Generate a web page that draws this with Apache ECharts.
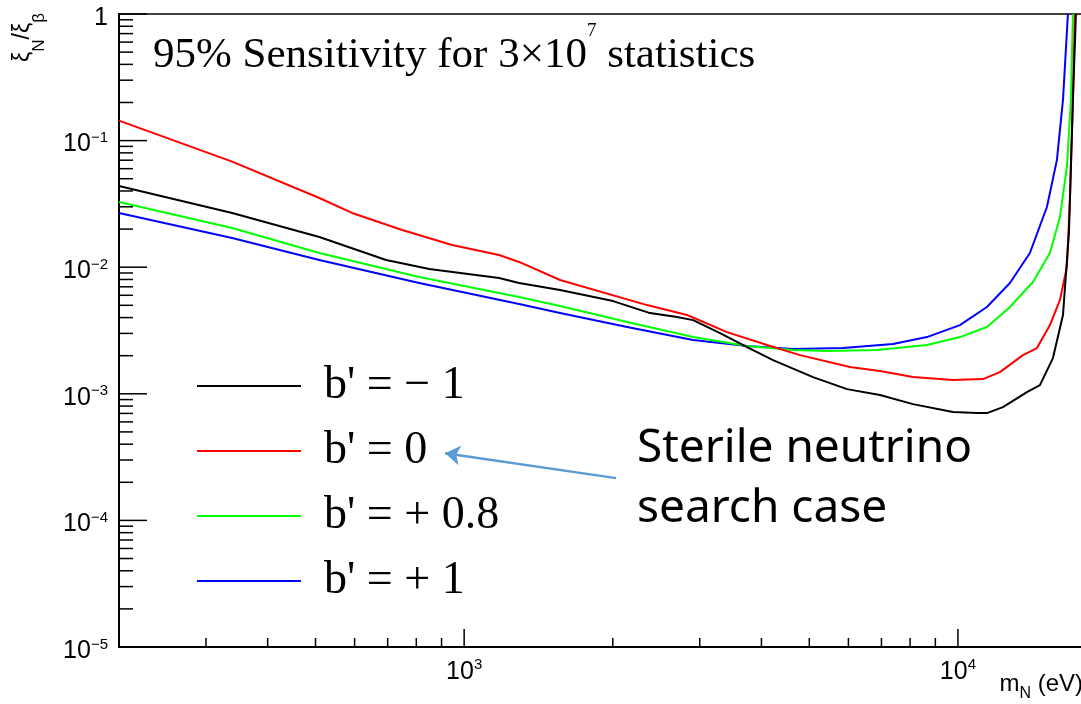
<!DOCTYPE html>
<html><head><meta charset="utf-8">
<script src="https://cdn.jsdelivr.net/npm/echarts@6/dist/echarts.min.js"></script>
<style>html,body{margin:0;padding:0;background:#fff}#c{width:1081px;height:704px}</style>
</head><body><div id="c"></div><script>
const seriesNames = ["b' = \u2212 1", "b' = 0", "b' = + 0.8", "b' = + 1"];
const seriesColors = ['#000000', '#ff0000', '#00ff00', '#0000ff'];

const massBlack = [200, 339, 509, 695, 850, 1177, 1292, 1564, 2003, 2379, 2699, 2908, 3298, 3741, 4222, 5087, 5961, 6952, 8108, 9770, 10926, 11446, 12332, 13795, 14655, 15573, 16320, 16778, 17093, 17336];
const xiBlack = [0.0438, 0.0268, 0.01733, 0.0114, 0.00968, 0.00822, 0.0075, 0.0066, 0.0054, 0.00434, 0.00404, 0.00382, 0.00302, 0.00234, 0.001847, 0.001355, 0.001089, 0.000977, 0.000829, 0.000717, 0.000704, 0.000704, 0.000785, 0.001031, 0.001172, 0.001915, 0.00419, 0.01864, 0.2099, 1.0];

const massRed = [200, 339, 509, 593, 749, 945, 1177, 1292, 1564, 2346, 2828, 3407, 4106, 4788, 6044, 6952, 8108, 9770, 11235, 12162, 13540, 14454, 15356, 16090, 16620, 16855, 17093, 17252];
const xiRed = [0.1439, 0.0682, 0.0352, 0.02683, 0.01968, 0.01498, 0.01249, 0.0110, 0.00792, 0.00502, 0.00419, 0.00307, 0.00243, 0.00202, 0.001626, 0.001512, 0.001355, 0.001283, 0.001307, 0.001484, 0.00202, 0.002297, 0.00349, 0.00551, 0.01004, 0.0340, 0.2099, 1.0];

const massGreen = [200, 339, 509, 811, 1292, 1564, 2138, 2908, 3741, 4634, 5430, 6855, 8655, 10092, 11446, 12743, 14188, 15356, 16090, 16620, 16934, 17093];
const xiGreen = [0.03276, 0.0204, 0.01295, 0.00837, 0.00581, 0.00494, 0.00369, 0.002806, 0.002383, 0.002216, 0.002176, 0.002216, 0.002427, 0.002806, 0.003368, 0.004845, 0.00764, 0.01295, 0.02493, 0.0619, 0.2099, 1.0];

const massBlue = [200, 339, 509, 811, 1292, 1564, 2138, 2908, 3741, 4634, 5850, 7386, 8655, 10092, 11446, 12743, 13985, 15142, 15866, 16320, 16700];
const xiBlue = [0.02683, 0.01701, 0.0114, 0.0075, 0.00512, 0.00434, 0.003368, 0.002657, 0.002383, 0.002256, 0.002297, 0.002471, 0.002806, 0.00349, 0.004845, 0.0075, 0.01295, 0.0299, 0.0704, 0.2099, 1.0];

const xMajorTicks = [1000, 10000];
const xMinorTicks = [300, 400, 500, 600, 700, 800, 900, 2000, 3000, 4000, 5000, 6000, 7000, 8000, 9000];
const yMajorTicks = [1e-5, 1e-4, 1e-3, 1e-2, 1e-1, 1];
const yMinorMantissas = [2, 3, 4, 5, 6, 7, 8, 9];
const yMinorDecades = [1e-5, 1e-4, 1e-3, 1e-2, 1e-1];

const arrowTail = [2031, 2.157e-4];
const arrowTip = [915, 3.398e-4];

const X_MIN = 200, X_MAX = 18000, Y_MIN = 1e-5, Y_MAX = 1;

function pairs(xs, ys) { return xs.map((x, i) => [x, ys[i]]); }
const curveData = [pairs(massBlack, xiBlack), pairs(massRed, xiRed), pairs(massGreen, xiGreen), pairs(massBlue, xiBlue)];

function isDecade(v) { const l = Math.log10(v); return Math.abs(l - Math.round(l)) < 1e-6; }
function yLabel(v) {
  if (!isDecade(v)) return '';
  const e = Math.round(Math.log10(v));
  if (e === 0) return '{b|1}';
  return '{b|10}{s|' + (e < 0 ? '\u2212' + (-e) : e) + '}';
}
function xLabel(v) {
  if (!isDecade(v)) return '';
  const e = Math.round(Math.log10(v));
  return '{b|10}{s|' + e + '}';
}

const yMinorTicks = [];
yMinorDecades.forEach(d => yMinorMantissas.forEach(m => yMinorTicks.push(m * d)));

function tickLine(x1, y1, x2, y2) {
  return { type: 'line', shape: { x1, y1, x2, y2 }, style: { stroke: '#000', lineWidth: 1.5 } };
}
function renderTicks(params, api) {
  const ch = [];
  xMajorTicks.forEach(v => { const p = api.coord([v, Y_MIN]); ch.push(tickLine(p[0], p[1], p[0], p[1] - 18)); });
  xMinorTicks.forEach(v => { const p = api.coord([v, Y_MIN]); ch.push(tickLine(p[0], p[1], p[0], p[1] - 9)); });
  yMajorTicks.forEach(v => { const p = api.coord([X_MIN, v]); ch.push(tickLine(p[0], p[1], p[0] + 28, p[1])); });
  yMinorTicks.forEach(v => { const p = api.coord([X_MIN, v]); ch.push(tickLine(p[0], p[1], p[0] + 14, p[1])); });
  return { type: 'group', children: ch };
}

const lineSeries = seriesNames.map((name, i) => {
  const s = {
    name, type: 'line', data: curveData[i], showSymbol: false, symbol: 'none',
    smooth: false, clip: true, silent: true,
    color: seriesColors[i],
    lineStyle: { color: seriesColors[i], width: 2, join: 'round' }, z: 3 + (3 - i)
  };
  if (i === 1) {
    s.markLine = {
      silent: true, animation: false, symbol: ['none', 'arrow'], symbolSize: 15,
      label: { show: false },
      lineStyle: { color: '#5B9BD5', width: 2.5, type: 'solid' },
      data: [[{ coord: arrowTail }, { coord: arrowTip }]]
    };
  }
  return s;
});

const chart = echarts.init(document.getElementById('c'), null, { renderer: 'canvas' });
chart.setOption({
  animation: false,
  backgroundColor: '#ffffff',
  grid: { left: 119, top: 14, right: -3, bottom: 57, show: true, borderColor: '#000', borderWidth: 1.5, backgroundColor: 'transparent', outerBoundsMode: 'none', containLabel: false },
  xAxis: {
    type: 'log', logBase: 10, min: X_MIN, max: X_MAX,
    axisLine: { show: true, onZero: false, lineStyle: { color: '#000', width: 2 } },
    axisTick: { show: false }, minorTick: { show: false }, splitLine: { show: false },
    axisLabel: {
      margin: 10, formatter: xLabel, showMinLabel: true, showMaxLabel: true, hideOverlap: false,
      rich: {
        b: { fontFamily: 'Liberation Sans', fontSize: 25, lineHeight: 30, color: '#000' },
        s: { fontFamily: 'Liberation Sans', fontSize: 15, lineHeight: 15, padding: [0, 0, 14, 0], color: '#000' }
      }
    }
  },
  yAxis: {
    type: 'log', logBase: 10, min: Y_MIN, max: Y_MAX,
    axisLine: { show: true, onZero: false, lineStyle: { color: '#000', width: 2 } },
    axisTick: { show: false }, minorTick: { show: false }, splitLine: { show: false },
    axisLabel: {
      margin: 11, formatter: yLabel, showMinLabel: true, showMaxLabel: true, hideOverlap: false,
      rich: {
        b: { fontFamily: 'Liberation Sans', fontSize: 25, lineHeight: 26, padding: [8, 0, 0, 0], color: '#000' },
        s: { fontFamily: 'Liberation Sans', fontSize: 15, lineHeight: 15, padding: [0, 0, 5, 0], color: '#000' }
      }
    }
  },
  legend: {
    orient: 'vertical', left: 197, top: 363, padding: 0, itemGap: 19,
    itemWidth: 104, itemHeight: 2, icon: 'rect', selectedMode: false,
    data: seriesNames,
    textStyle: { fontFamily: 'Liberation Serif', fontSize: 46, lineHeight: 46, color: '#000', padding: [0, 0, 0, 18] }
  },
  graphic: [
    {
      type: 'text', left: 153, top: 20, silent: true,
      style: {
        text: '{a|95% Sensitivity for 3\u00d710}{s|7}{a| statistics}',
        rich: {
          a: { fontFamily: 'Liberation Serif', fontSize: 43, lineHeight: 47, padding: [14, 0, 0, 0], fill: '#000' },
          s: { fontFamily: 'Liberation Serif', fontSize: 19, lineHeight: 20, padding: [0, 0, 34, 0], fill: '#000' }
        }
      }
    },
    {
      type: 'text', x: 23, y: 13, rotation: Math.PI / 2, silent: true,
      style: {
        text: '{g|\u03be}{s|N}{g|/\u03be}{s|\u03b2}', align: 'right', verticalAlign: 'middle',
        rich: {
          g: { fontFamily: 'Liberation Sans', fontSize: 23, lineHeight: 24, fill: '#000' },
          s: { fontFamily: 'Liberation Sans', fontSize: 17, lineHeight: 17, padding: [33, 0, 0, 0], fill: '#000' }
        }
      }
    },
    {
      type: 'text', x: 1083, y: 671, silent: true,
      style: {
        text: '{b|m}{s|N}{b| (eV)}', align: 'right', verticalAlign: 'top',
        rich: {
          b: { fontFamily: 'Liberation Sans', fontSize: 24, lineHeight: 26, fill: '#000' },
          s: { fontFamily: 'Liberation Sans', fontSize: 16, lineHeight: 16, padding: [20, 0, 0, 0], fill: '#000' }
        }
      }
    },
    {
      type: 'text', x: 637, y: 419, silent: true,
      style: { text: 'Sterile neutrino\nsearch case', font: '46px "Noto Sans"', lineHeight: 60, fill: '#000', align: 'left', verticalAlign: 'top' }
    }
  ],
  series: lineSeries.concat([{
    type: 'custom', name: 'ticks', silent: true, data: [[X_MIN, Y_MIN]], encode: { x: 0, y: 1 },
    renderItem: renderTicks, z: 10, clip: false
  }])
});
</script></body></html>
